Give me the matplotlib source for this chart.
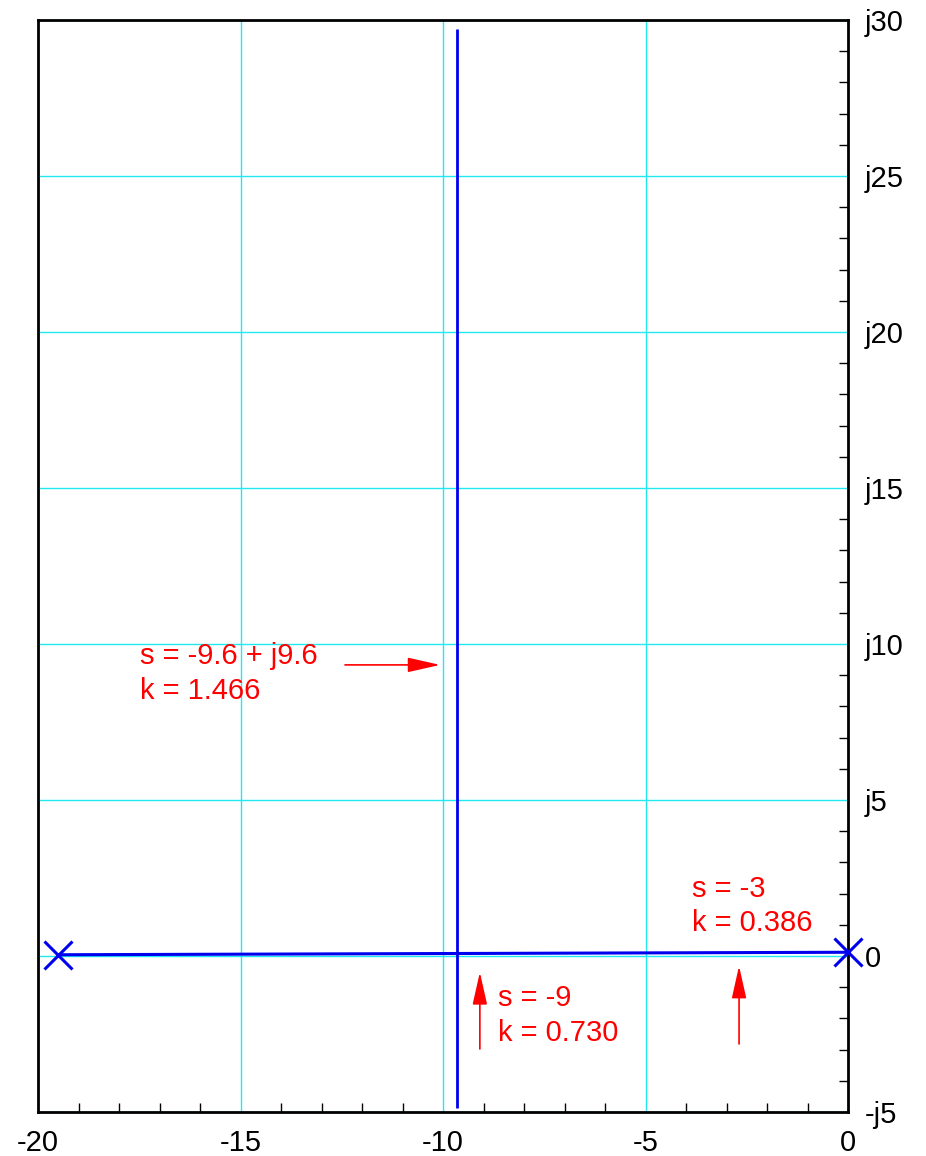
import matplotlib
matplotlib.use("Agg")
import matplotlib.pyplot as plt
from matplotlib.ticker import MultipleLocator, FixedLocator, FixedFormatter

plt.rcParams['font.family'] = ['Liberation Sans', 'DejaVu Sans']

# Open-loop poles
pole_re = [-19.5, 0.0]
pole_im = [0.04, 0.12]

# Root locus branches
real_branch_re = [-19.5, 0.0]
real_branch_im = [0.04, 0.12]
complex_branch_re = [-9.65, -9.65]
complex_branch_im = [-4.87, 29.7]

# Axis ticks
x_ticks = [-20, -15, -10, -5, 0]
x_labels = ["-20", "-15", "-10", "-5", "0"]
y_ticks = [-5, 0, 5, 10, 15, 20, 25, 30]
y_labels = ["-j5", "0", "j5", "j10", "j15", "j20", "j25", "j30"]

# Annotations: text, text anchor, arrow tail, arrow tip
notes = [
    ("s = -9.6 + j9.6\nk = 1.466", (-17.48, 10.05), (-12.42, 9.33), (-10.07, 9.33)),
    ("s = -9\nk = 0.730", (-8.64, -0.9), (-9.09, -2.98), (-9.09, -0.52)),
    ("s = -3\nk = 0.386", (-3.85, 2.6), (-2.69, -2.82), (-2.69, -0.32)),
]

W, H = 926, 1156
fig = plt.figure(figsize=(W / 100, H / 100), dpi=100)
ax = fig.add_axes([38 / W, 1 - 1112 / H, (848 - 38) / W, (1112 - 20) / H])

ax.set_xlim(-20, 0)
ax.set_ylim(-5, 30)

# Grid
ax.xaxis.set_major_locator(FixedLocator(x_ticks))
ax.xaxis.set_major_formatter(FixedFormatter(x_labels))
ax.yaxis.set_major_locator(FixedLocator(y_ticks))
ax.yaxis.set_major_formatter(FixedFormatter(y_labels))
ax.xaxis.set_minor_locator(MultipleLocator(1))
ax.yaxis.set_minor_locator(MultipleLocator(1))
ax.grid(True, which='major', color='#22e8f0', linewidth=1.0, zorder=0)

ax.yaxis.tick_right()
ax.tick_params(axis='both', which='major', length=0, labelsize=21)
ax.tick_params(axis='x', which='major', pad=12)
ax.tick_params(axis='y', which='major', pad=12)
ax.tick_params(axis='x', which='minor', direction='in', length=6.5, width=1.0,
               bottom=True, top=False)
ax.tick_params(axis='y', which='minor', direction='in', length=6.5, width=1.0,
               right=True, left=False)
for lbl in ax.get_yticklabels():
    lbl.set_horizontalalignment('left')

for s in ax.spines.values():
    s.set_linewidth(2.0)
    s.set_color('black')

# Locus branches
ax.plot(real_branch_re, real_branch_im, color='#0000ee', linewidth=2.2,
        solid_capstyle='butt', zorder=3)
ax.plot(complex_branch_re, complex_branch_im, color='#0000ee', linewidth=2.0,
        solid_capstyle='butt', zorder=3)
ax.plot(pole_re, pole_im, linestyle='none', marker='x', markersize=20,
        markeredgewidth=2.2, color='#0000ee', clip_on=False, zorder=4)

# Annotations
for text, (tx, ty), tail, tip in notes:
    ax.text(tx, ty, text, color='#ff0000', fontsize=21, ha='left', va='top',
            linespacing=1.3, zorder=5)
    ax.annotate('', xy=tip, xytext=tail,
                arrowprops=dict(arrowstyle='-|>,head_length=2.0,head_width=0.45',
                                color='#ff0000', lw=1.2, shrinkA=0, shrinkB=0),
                zorder=5)

fig.savefig('out.png', dpi=100)
